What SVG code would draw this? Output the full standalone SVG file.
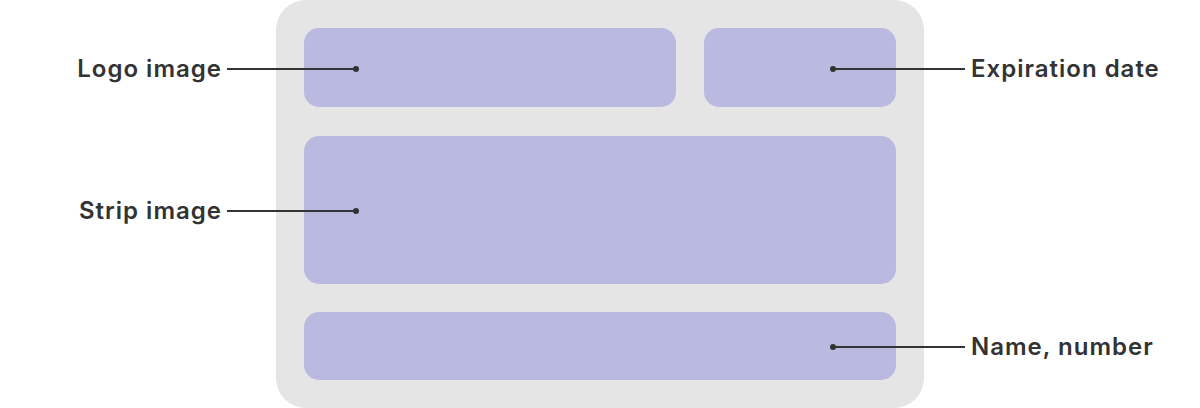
<svg xmlns="http://www.w3.org/2000/svg" width="1200" height="408" viewBox="0 0 1200 408">
<style>
.lbl{font-family:Inter,"Liberation Sans",sans-serif;font-size:24px;font-weight:600;fill:#333;letter-spacing:1px}
.box{fill:#babae0}
.ln{stroke:#333;stroke-width:2;fill:none}
.dot{fill:#333}
</style>
<rect width="1200" height="408" fill="#fff"/>
<g id="card"><rect x="276" y="0" width="648" height="408" rx="30" fill="#e5e5e5"/></g>
<g id="logo"><rect class="box" x="304" y="28" width="372" height="79" rx="15"/></g>
<g id="expiration"><rect class="box" x="704" y="28" width="192" height="79" rx="15"/></g>
<g id="strip"><rect class="box" x="304" y="136" width="592" height="148" rx="15"/></g>
<g id="name"><rect class="box" x="304" y="312" width="592" height="68" rx="15"/></g>
<g id="connectors">
<line class="ln" x1="227" y1="69" x2="356" y2="69"/><circle class="dot" cx="356" cy="69" r="3"/>
<line class="ln" x1="227" y1="211" x2="356" y2="211"/><circle class="dot" cx="356" cy="211" r="3"/>
<line class="ln" x1="833" y1="69" x2="965" y2="69"/><circle class="dot" cx="833" cy="69" r="3"/>
<line class="ln" x1="833" y1="347" x2="965" y2="347"/><circle class="dot" cx="833" cy="347" r="3"/>
</g>
<g id="labels">
<text class="lbl" x="222" y="77" text-anchor="end">Logo image</text>
<text class="lbl" x="222" y="219" text-anchor="end">Strip image</text>
<text class="lbl" x="971" y="77">Expiration date</text>
<text class="lbl" x="971" y="355">Name, number</text>
</g>
</svg>
